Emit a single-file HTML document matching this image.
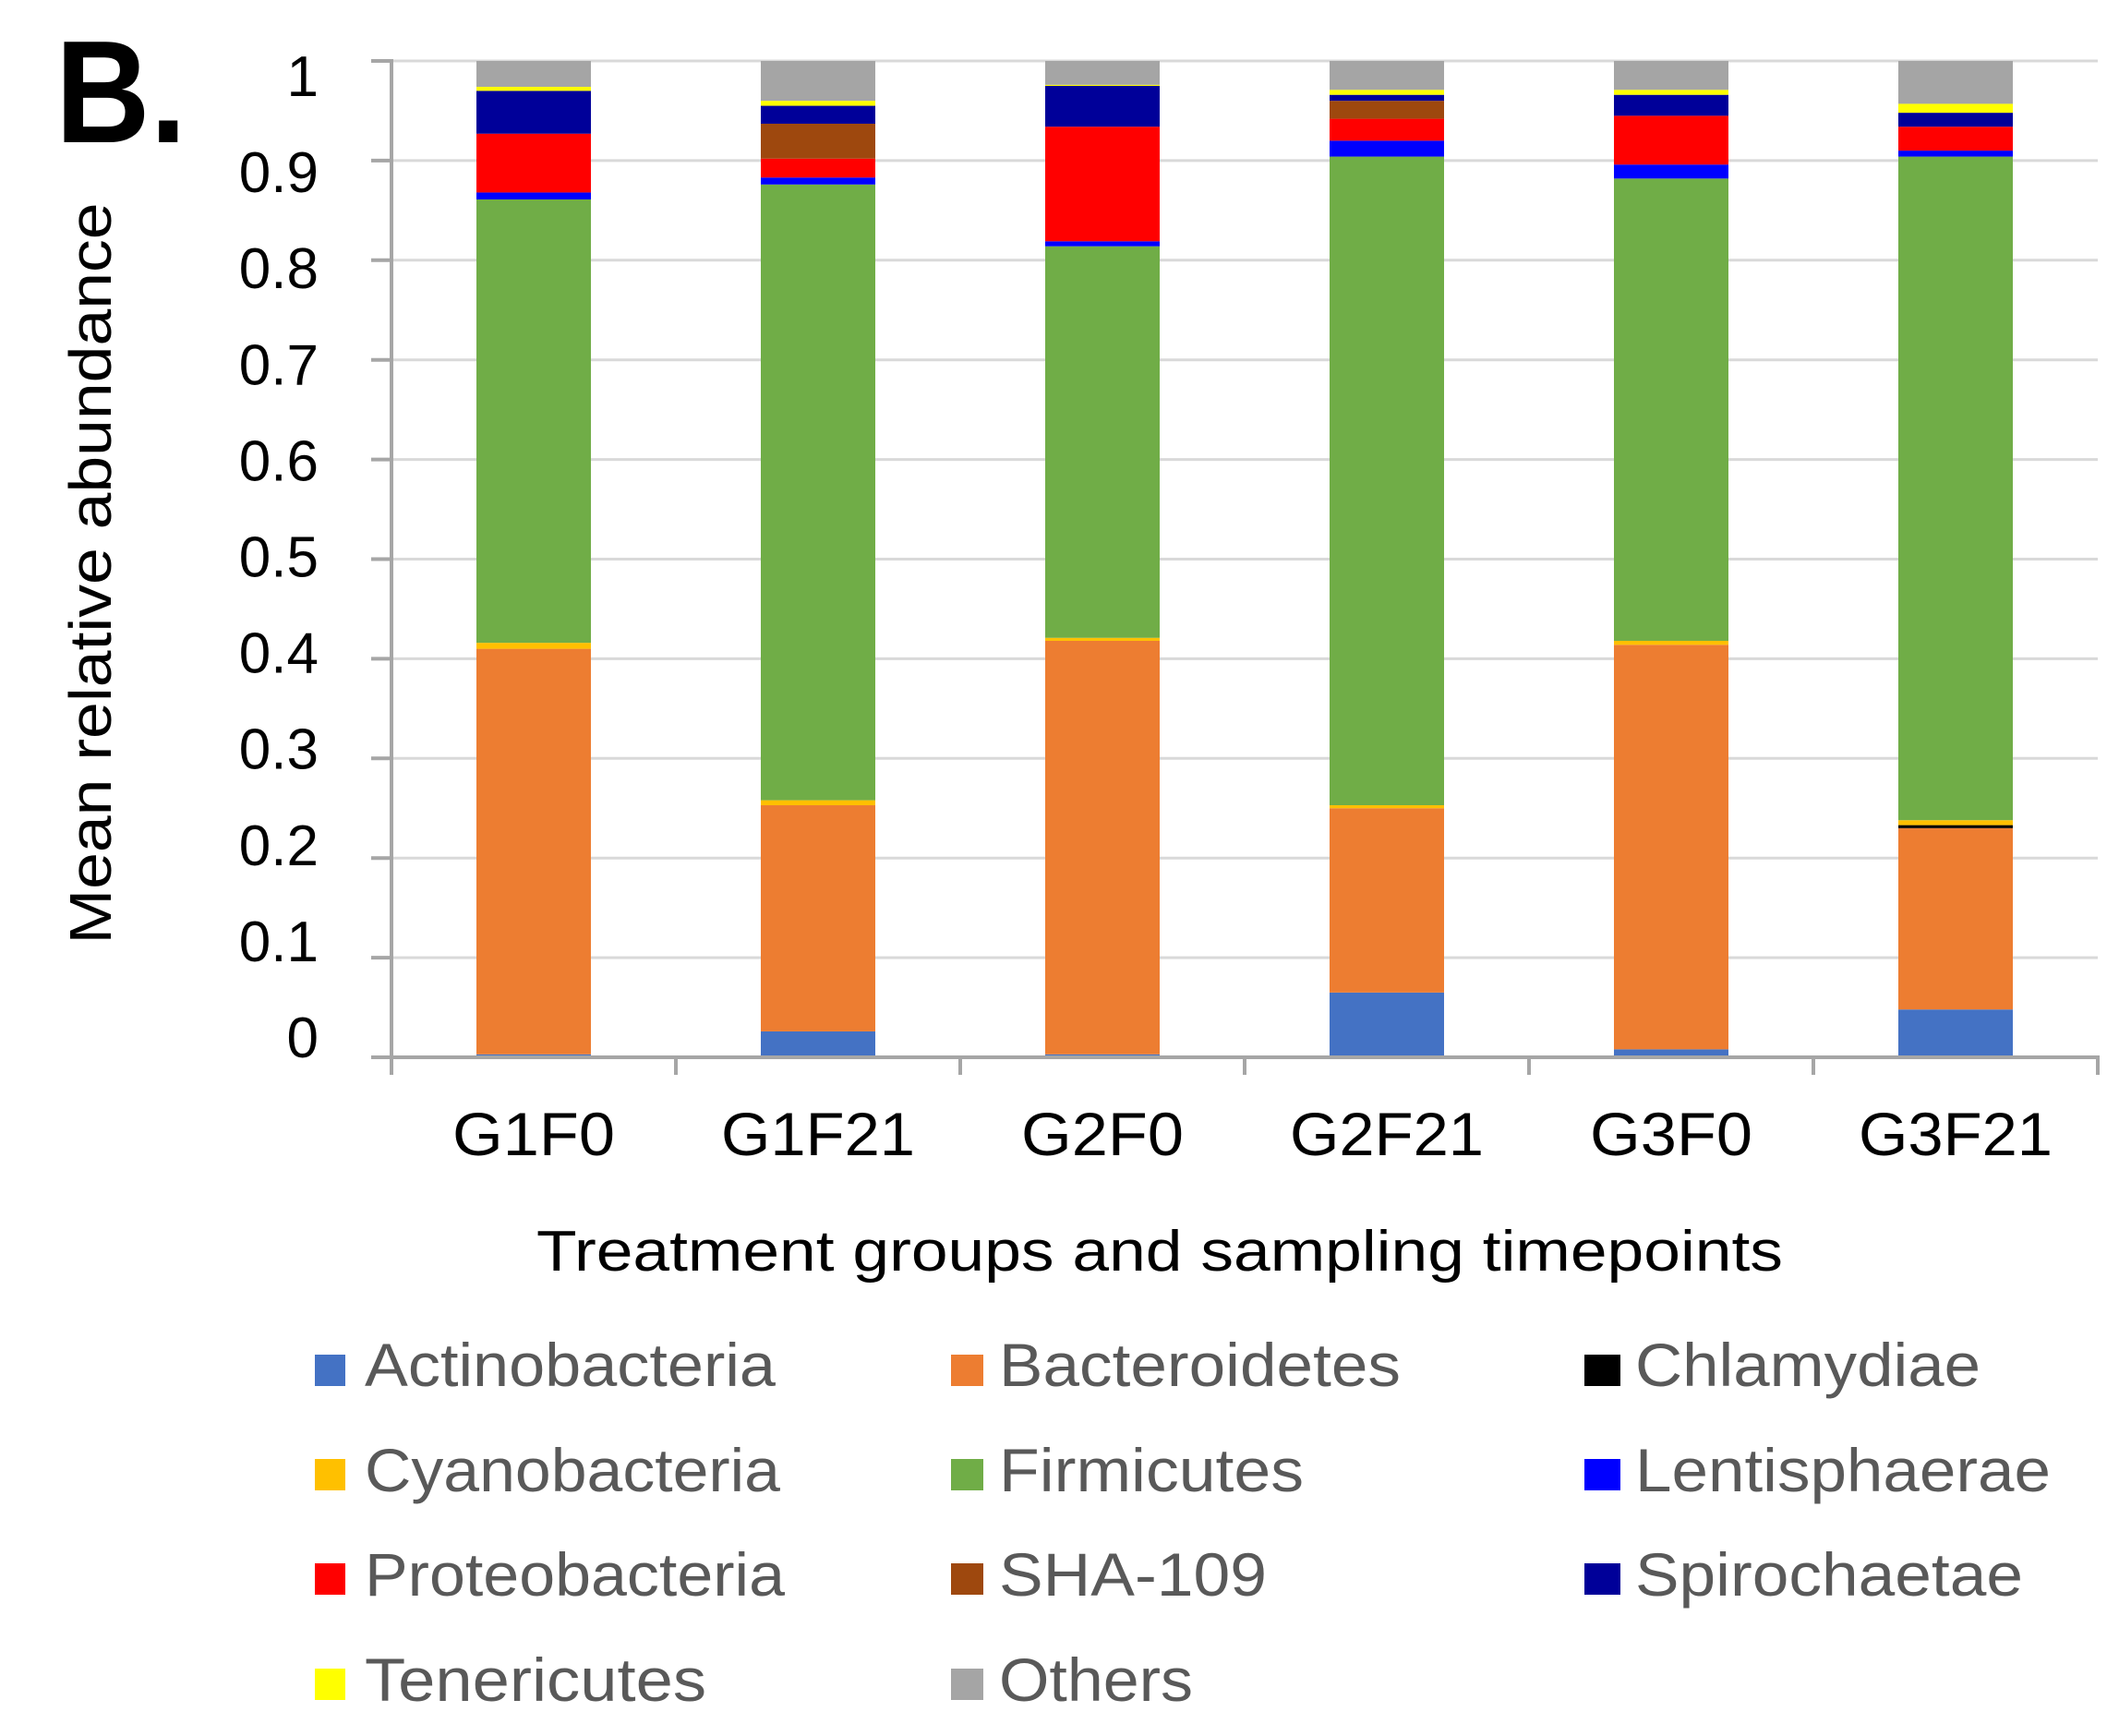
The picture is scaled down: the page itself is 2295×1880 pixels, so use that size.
<!DOCTYPE html>
<html><head><meta charset="utf-8"><style>html,body{margin:0;padding:0;background:#fff}svg{display:block}</style></head>
<body>
<svg id="s" width="2295" height="1880" viewBox="0 0 2295 1880" xmlns="http://www.w3.org/2000/svg" font-family="Liberation Sans, Arial, sans-serif">
<text x="60" y="154" font-size="158" font-weight="bold" fill="#000" textLength="142" lengthAdjust="spacingAndGlyphs">B.</text>
<g id="grid" stroke="#d9d9d9" stroke-width="3"></g>
<g id="bars"></g>
<g stroke="#a6a6a6" stroke-width="4" fill="none">
<line x1="424" y1="64" x2="424" y2="1147"/>
<line x1="422" y1="1145" x2="2274" y2="1145"/>
<g id="ticks"></g>
</g>
<g id="ylab" font-size="62" fill="#000" text-anchor="end"></g>
<text transform="translate(120,621) rotate(-90)" font-size="64" fill="#000" text-anchor="middle" textLength="803" lengthAdjust="spacingAndGlyphs">Mean relative abundance</text>
<g font-size="66" fill="#000" text-anchor="middle">
<text x="578" y="1251" textLength="176" lengthAdjust="spacingAndGlyphs">G1F0</text>
<text x="886" y="1251" textLength="210" lengthAdjust="spacingAndGlyphs">G1F21</text>
<text x="1194" y="1251" textLength="176" lengthAdjust="spacingAndGlyphs">G2F0</text>
<text x="1502" y="1251" textLength="210" lengthAdjust="spacingAndGlyphs">G2F21</text>
<text x="1810" y="1251" textLength="176" lengthAdjust="spacingAndGlyphs">G3F0</text>
<text x="2118" y="1251" textLength="210" lengthAdjust="spacingAndGlyphs">G3F21</text>
</g>
<text x="581" y="1376" font-size="62" fill="#000" textLength="1350" lengthAdjust="spacingAndGlyphs">Treatment groups and sampling timepoints</text>
<g font-size="66" fill="#595959">
<rect x="341" y="1467" width="33" height="34" fill="#4472C4"/><text x="395" y="1501" textLength="445" lengthAdjust="spacingAndGlyphs">Actinobacteria</text>
<rect x="1030" y="1467" width="35" height="34" fill="#ED7D31"/><text x="1082" y="1501" textLength="435" lengthAdjust="spacingAndGlyphs">Bacteroidetes</text>
<rect x="1716" y="1467" width="39" height="34" fill="#000"/><text x="1771" y="1501" textLength="374" lengthAdjust="spacingAndGlyphs">Chlamydiae</text>
<rect x="341" y="1580" width="33" height="34" fill="#FFC000"/><text x="395" y="1615" textLength="450" lengthAdjust="spacingAndGlyphs">Cyanobacteria</text>
<rect x="1030" y="1580" width="35" height="34" fill="#70AD47"/><text x="1082" y="1615" textLength="330" lengthAdjust="spacingAndGlyphs">Firmicutes</text>
<rect x="1716" y="1580" width="39" height="34" fill="#0000FF"/><text x="1771" y="1615" textLength="450" lengthAdjust="spacingAndGlyphs">Lentisphaerae</text>
<rect x="341" y="1693" width="33" height="34" fill="#FF0000"/><text x="395" y="1728" textLength="455" lengthAdjust="spacingAndGlyphs">Proteobacteria</text>
<rect x="1030" y="1693" width="35" height="34" fill="#9E480E"/><text x="1082" y="1728" textLength="290" lengthAdjust="spacingAndGlyphs">SHA-109</text>
<rect x="1716" y="1693" width="39" height="34" fill="#000099"/><text x="1771" y="1728" textLength="420" lengthAdjust="spacingAndGlyphs">Spirochaetae</text>
<rect x="341" y="1807" width="33" height="34" fill="#FFFF00"/><text x="395" y="1842" textLength="370" lengthAdjust="spacingAndGlyphs">Tenericutes</text>
<rect x="1030" y="1807" width="35" height="34" fill="#A5A5A5"/><text x="1082" y="1842" textLength="210" lengthAdjust="spacingAndGlyphs">Others</text>
</g>
</svg>
<script>
(function(){
var NS="http://www.w3.org/2000/svg";
function el(p,t,a){var e=document.createElementNS(NS,t);for(var k in a)e.setAttribute(k,a[k]);p.appendChild(e);return e;}
var Y=function(v){return 1145-1079*v;};
var g=document.getElementById("grid"),tk=document.getElementById("ticks"),yl=document.getElementById("ylab");
var labs=["1","0.9","0.8","0.7","0.6","0.5","0.4","0.3","0.2","0.1","0"];
for(var i=0;i<=10;i++){var y=Y(i/10);if(i>0)el(g,"line",{x1:424,y1:y,x2:2272,y2:y});el(tk,"line",{x1:402,y1:y,x2:424,y2:y});
var t=el(yl,"text",{x:345,y:104+(10-i)*104.1});t.textContent=labs[10-i];}
for(var j=0;j<=6;j++){var x=424+308*j;el(tk,"line",{x1:x,y1:1145,x2:x,y2:1164});}
var C=["#4472C4","#ED7D31","#000000","#FFC000","#70AD47","#0000FF","#FF0000","#9E480E","#000099","#FFFF00","#A5A5A5"];
var D=[
[0.003,0.410,0.410,0.416,0.861,0.868,0.927,0.927,0.970,0.974,1],
[0.026,0.253,0.253,0.258,0.876,0.883,0.902,0.937,0.955,0.960,1],
[0.003,0.418,0.418,0.421,0.814,0.819,0.934,0.934,0.975,0.976,1],
[0.065,0.250,0.250,0.253,0.904,0.920,0.942,0.960,0.966,0.971,1],
[0.008,0.414,0.414,0.418,0.882,0.896,0.945,0.945,0.966,0.971,1],
[0.048,0.230,0.233,0.238,0.904,0.910,0.934,0.934,0.948,0.957,1]];
var b=document.getElementById("bars");
for(var m=0;m<6;m++){var cx=578+308*m,prev=0;for(var k=0;k<11;k++){var tv=D[m][k];if(tv>prev){el(b,"rect",{x:cx-62,y:Y(tv),width:124,height:Y(prev)-Y(tv),fill:C[k]});}prev=tv;}}
})();
</script>
</body></html>
